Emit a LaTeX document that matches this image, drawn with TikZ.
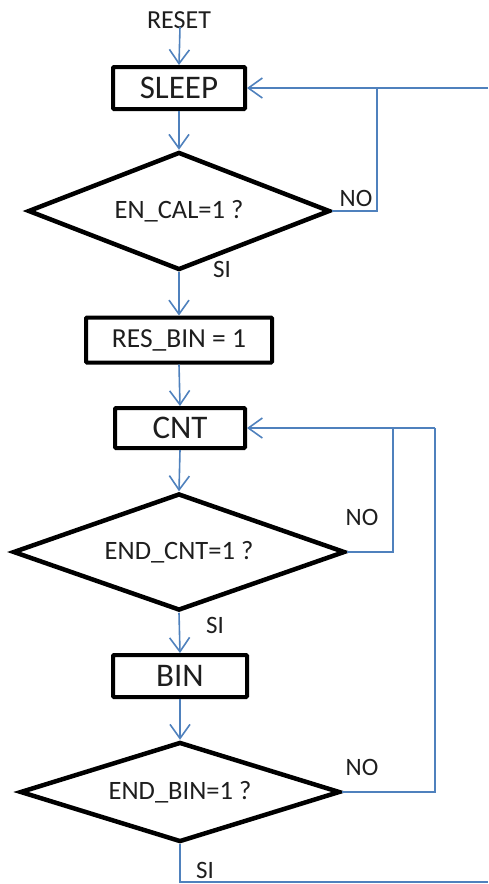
\documentclass[tikz,border=0pt]{standalone}
\usepackage{fontspec}
\setmainfont{Carlito}
\usetikzlibrary{shapes.geometric,arrows.meta}
\definecolor{flowblue}{RGB}{79,129,189}
\definecolor{ink}{RGB}{30,30,30}
\tikzset{
  statebox/.style={draw=black, line width=4pt, fill=white, rounded corners=1pt,
    inner sep=0pt, font=\fontsize{33}{33}\selectfont, text=ink},
  decision/.style={diamond, aspect=2.6, draw=black, line width=4.5pt, fill=white, inner sep=0pt,
    font=\fontsize{26.5}{26.5}\selectfont, text=ink},
  flow/.style={draw=flowblue, line width=1.6pt},
  arr/.style={flow, -{Straight Barb[length=14pt,width=20pt,line width=1.6pt]}},
  tag/.style={font=\fontsize{25}{25}\selectfont, text=ink, inner sep=0pt}
}
\begin{document}
\begin{tikzpicture}[x=1pt,y=-1pt]
  \useasboundingbox (0,0) rectangle (488,884);

  % states and decisions
  \node[tag, font=\fontsize{26}{26}\selectfont] (reset) at (179,20) {RESET};
  \node[statebox, minimum width=132pt, minimum height=42pt] (sleep) at (179,88) {SLEEP};
  \node[decision, minimum width=302pt, minimum height=118pt] (d1) at (179,211) {EN\_CAL=1 ?};
  \node[statebox, minimum width=186pt, minimum height=45pt, font=\fontsize{27.5}{27.5}\selectfont] (resbin) at (179,340) {RES\_BIN = 1};
  \node[statebox, minimum width=130pt, minimum height=40pt] (cnt) at (180,428) {CNT};
  \node[decision, minimum width=332pt, minimum height=117pt] (d2) at (179,552) {END\_CNT=1 ?};
  \node[statebox, minimum width=134pt, minimum height=42pt] (bin) at (180,676) {BIN};
  \node[decision, minimum width=320pt, minimum height=100pt] (d3) at (180,792) {END\_BIN=1 ?};

  % loop junctions and free ends
  \coordinate (in1) at (488,88);
  \coordinate (j1) at (377,88);
  \coordinate (in2) at (435,428);
  \coordinate (j2) at (393,428);
  \coordinate (out) at (488,882);

  % main flow
  \draw[arr] (180,27) -- (sleep.north);
  \draw[arr] (sleep.south) -- (d1.north);
  \draw[arr] (d1.south) -- (resbin.north);
  \draw[arr] (resbin.south) -- (cnt.north);
  \draw[arr] (cnt.south) -- (d2.north);
  \draw[arr] (d2.south) -- (bin.north);
  \draw[arr] (bin.south) -- (d3.north);

  % feedback loops
  \draw[arr] (in1) -- (sleep.east);
  \draw[flow] (d1.east) -| (j1);
  \draw[arr] (in2) -- (cnt.east);
  \draw[flow] (d2.east) -| (j2);
  \draw[flow] (d3.east) -| (in2);
  \draw[flow] (d3.south) |- (out);

  % branch labels
  \node[tag] (no1) at (356,198) {NO};
  \node[tag] (si1) at (222,269) {SI};
  \node[tag] (no2) at (362,517) {NO};
  \node[tag] (si2) at (215,625) {SI};
  \node[tag] (no3) at (362,767) {NO};
  \node[tag] (si3) at (205,870) {SI};
\end{tikzpicture}
\end{document}
